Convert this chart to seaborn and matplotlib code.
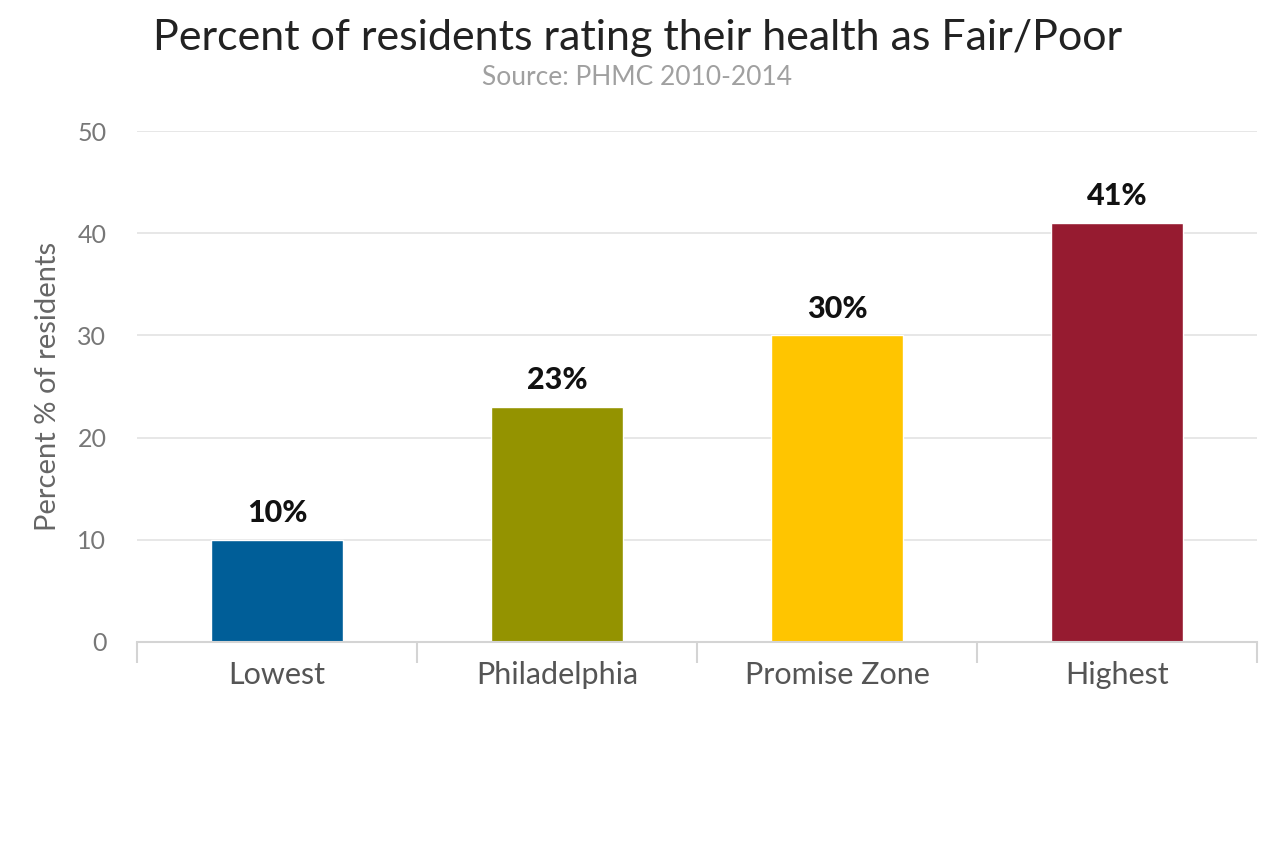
"""Bar chart: percent of residents rating their health as Fair/Poor."""

import matplotlib.pyplot as plt
import numpy as np
import pandas as pd
import seaborn as sns
from matplotlib.ticker import FixedLocator

# ── Data ─────────────────────────────────────────────────────────────────────
categories = ["Lowest", "Philadelphia", "Promise Zone", "Highest"]
values = [10, 23, 30, 41]
bar_colors = ["#005e98", "#949300", "#ffc500", "#961b30"]
y_ticks = [0, 10, 20, 30, 40, 50]

df = pd.DataFrame({"area": categories, "pct": values})

# ── Style ────────────────────────────────────────────────────────────────────
sns.set_theme(style="white")
plt.rcParams["font.family"] = ["Lato", "DejaVu Sans"]

fig = plt.figure(figsize=(12.8, 8.48), dpi=100)
ax = fig.add_axes([0.107, 0.243, 0.875, 0.6025])

sns.barplot(
    data=df,
    x="area",
    y="pct",
    hue="area",
    palette=bar_colors,
    width=0.47,
    legend=False,
    saturation=1,
    ax=ax,
)

for cont in ax.containers:
    ax.bar_label(
        cont,
        labels=[f"{v:.0f}%" for v in cont.datavalues],
        padding=9,
        fontsize=22,
        fontweight="black",
        color="#111111",
    )

ax.set_xlim(-0.5, len(categories) - 0.5)
ax.set_ylim(0, 50)
ax.set_yticks(y_ticks)
ax.yaxis.grid(True, color="#e3e3e3", linewidth=1.2)
ax.set_axisbelow(True)

for side in ["left", "right", "top"]:
    ax.spines[side].set_visible(False)
ax.spines["bottom"].set_color("#d4d4d4")
ax.spines["bottom"].set_linewidth(1.5)

# category dividers as minor ticks
ax.xaxis.set_minor_locator(FixedLocator(np.arange(-0.5, len(categories), 1.0)))
ax.tick_params(axis="x", which="minor", bottom=True, length=15, width=1.5, color="#d4d4d4")
ax.tick_params(axis="x", which="major", length=0, pad=14, labelsize=22, labelcolor="#555555")
ax.tick_params(axis="y", length=0, pad=22, labelsize=18, labelcolor="#777777")

ax.set_xlabel("")
ax.set_ylabel("Percent % of residents", fontsize=21, color="#666666", labelpad=12)

fig.text(0.498, 0.955, "Percent of residents rating their health as Fair/Poor",
         ha="center", va="center", fontsize=31, color="#222222")
fig.text(0.498, 0.909, "Source: PHMC 2010-2014",
         ha="center", va="center", fontsize=19, color="#a0a0a0")

fig.savefig("out.png", dpi=100)
